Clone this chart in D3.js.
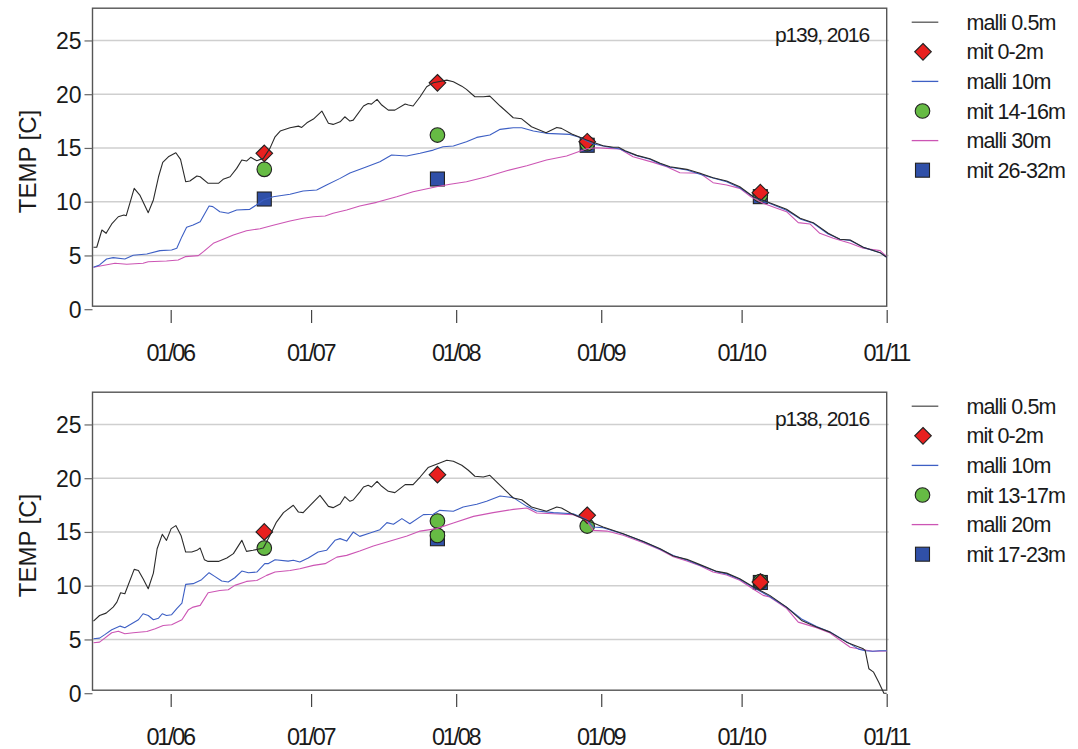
<!DOCTYPE html>
<html>
<head>
<meta charset="utf-8">
<script src="https://cdn.jsdelivr.net/npm/d3@7"></script>
<style>
  html, body { margin: 0; padding: 0; background: #fff; }
  svg { display: block; }
  text { font-family: "Liberation Sans", Arial, sans-serif; fill: #1a1a1a; }
</style>
</head>
<body>
<svg id="chart" width="1078" height="749"></svg>
<script>
// ---------------- DATA ----------------
// line series: [days since 2016-06-01, temperature °C]
const p139_malli05 = [[-16.5,5.76],[-15.8,5.76],[-14.7,7.37],[-13.8,7.06],[-12.6,7.93],[-11.2,8.6],[-10,8.76],[-9.5,8.7],[-7.8,11.24],[-6.6,10.62],[-4.8,8.98],[-3.7,10.16],[-2.6,12.32],[-1.7,13.66],[-0.5,14.18],[1.1,14.55],[2.1,13.94],[3.2,11.86],[4.1,11.92],[5.6,12.39],[6.3,12.32],[8,11.71],[10.2,11.71],[11.2,12.08],[12.7,12.32],[14.1,13.1],[15.2,13.88],[16.2,13.78],[17.1,14.13],[18.4,13.81],[19.8,14.03],[21.2,14.96],[22.3,16.04],[23.4,16.57],[25.5,16.88],[27.3,17.03],[28,16.91],[29.1,17.34],[30.5,17.69],[32.3,18.43],[33.7,17.29],[34.7,17.19],[36.2,17.43],[37.2,17.9],[38.3,17.5],[39,17.59],[41.2,18.9],[42.2,19.14],[42.9,19.08],[44.1,19.52],[45.1,18.99],[46.5,18.52],[47.9,18.52],[50.1,19.08],[50.8,18.99],[51.8,18.9],[53.3,19.76],[54.7,20.69],[56.1,21.06],[59,21.31],[60.4,21.15],[62.2,20.75],[63.2,20.45],[65,19.76],[66.8,19.76],[68.2,19.82],[70.4,18.9],[73.2,17.81],[75,17.71],[77.1,16.97],[80.2,16.41],[82.5,16.91],[83.5,16.82],[85.7,16.29],[88.9,15.73],[92.4,15.2],[94.6,15.06],[95.7,15.06],[97.1,14.74],[99.6,14.31],[102.4,14],[104.6,13.57],[106.7,13.25],[110.3,13.01],[113.1,12.64],[115.9,12.23],[118.8,11.92],[121.6,11.39],[124.5,10.46],[127.4,10],[131.6,9.29],[134.5,8.46],[137.3,8.05],[140.5,7.06],[143,6.5],[145.2,6.44],[148,5.76],[151.6,5.26],[153,4.83]];
const p139_malli10 = [[-16.5,3.9],[-15.2,4.12],[-13.7,4.67],[-12.3,4.8],[-9.8,4.67],[-8,5.02],[-5.1,5.14],[-2.3,5.45],[0.2,5.51],[1.3,5.67],[2.4,6.75],[3.4,7.62],[4.8,7.83],[6.3,8.14],[8.2,9.6],[9,9.54],[10.5,9.07],[12.3,8.92],[14.1,9.23],[16.9,9.29],[18.3,9.69],[19.8,10.16],[21.9,10.46],[25.5,10.69],[28.3,11],[31.2,11.09],[33.3,11.55],[36.2,12.17],[38.3,12.67],[41.9,13.25],[44.7,13.72],[47.2,14.34],[50.4,14.25],[53.3,14.5],[56.1,14.8],[58.2,15.11],[60.4,15.18],[63.2,15.58],[65.4,15.98],[68.2,16.2],[70.4,16.73],[73.2,16.88],[75,16.88],[77.5,16.57],[80.3,16.36],[85.3,16.26],[87.5,15.98],[90.3,15.36],[93.2,15.11],[96,14.9],[97.1,14.7],[99.6,14.28],[102.4,13.95],[104.6,13.5],[106.7,13.2],[110.3,12.95],[113.1,12.55],[115.9,12.2],[118.8,11.85],[121.6,11.3],[124.5,10.45],[127.4,9.95],[131.6,9.2],[134.5,8.4],[137.3,8.0],[140.5,7.0],[143,6.5],[145.2,6.4],[148,5.75],[151.6,5.25],[153,4.83]];
const p139_malli30 = [[-16.5,3.9],[-11.9,4.27],[-9.4,4.18],[-5.9,4.27],[-4.8,4.42],[-0.9,4.49],[1.6,4.58],[3.1,4.89],[5.9,4.98],[7,5.35],[9.1,6.13],[11.2,6.5],[13.4,6.9],[16.2,7.3],[19.1,7.49],[21.9,7.81],[25.5,8.21],[28.3,8.46],[30.5,8.6],[33,8.67],[34.7,8.92],[37.6,9.23],[40.4,9.6],[44,9.94],[48.3,10.46],[51.8,10.93],[56.8,11.39],[59.7,11.62],[63.2,11.86],[67.5,12.32],[71.8,12.88],[76.1,13.35],[80.3,13.88],[84.6,14.25],[88.9,14.93],[91,15.02],[93.2,14.96],[96,14.9],[98.8,14.18],[103.1,13.66],[106,13.25],[108.8,12.7],[113.1,12.64],[115.9,11.77],[118.8,11.55],[121.6,11.24],[124,10.46],[126.6,9.85],[129.5,9.39],[131.6,9.07],[134.1,8.05],[136.6,7.93],[138.7,7.06],[141.6,6.6],[145.2,6.13],[148,5.67],[151.6,5.45],[153,4.89]];

const p138_malli05 = [[-16.5,6.7],[-15.2,7.23],[-13.8,7.45],[-12.3,8.01],[-11.5,8.47],[-10.7,9.35],[-9.8,9.25],[-7.8,11.52],[-6.9,11.42],[-5.9,10.65],[-4.8,9.72],[-3.7,11.17],[-2.9,13.44],[-1.8,14.78],[-0.9,14.22],[0.1,15.31],[1.1,15.59],[2.2,14.68],[3.2,13.13],[4.5,13.13],[5.6,13.29],[6.3,13.5],[7.2,12.42],[8,12.26],[10.2,12.26],[12,12.57],[13.4,12.98],[15.2,14.22],[16.2,13.19],[17.6,13.29],[19.8,13.5],[21.2,14.68],[22.6,15.92],[24.1,16.8],[26.2,17.48],[27.3,16.85],[28.3,16.8],[29.8,17.48],[31.9,18.41],[33.7,17.38],[34.7,17.26],[36.2,17.6],[37.2,18.28],[38.3,17.85],[39,17.97],[40.4,18.71],[41.2,19.18],[42.2,19.34],[42.9,19.18],[44.1,19.71],[45.1,19.25],[46.5,18.78],[47.9,18.66],[50.1,19.4],[51.8,19.4],[53.3,20.11],[55,20.99],[56.8,21.29],[59,21.67],[60.4,21.57],[62.2,21.2],[63.6,20.74],[65,20.18],[66.8,20.11],[68.2,20.27],[70.4,19.34],[73.2,18.16],[75,18.0],[77.1,17.32],[80.3,16.92],[82.5,17.32],[83.5,17.23],[85.7,16.7],[88.9,16.08],[92.4,15.46],[96.7,14.84],[101,14.12],[104.6,13.44],[107.4,12.76],[110.3,12.45],[113.1,11.96],[116.7,11.33],[118.8,11.17],[121.6,10.65],[124.8,9.81],[128,9.1],[131.6,8.01],[134.8,6.77],[138,6.15],[140.9,5.68],[144.4,4.75],[148,4.13],[148.4,3.98],[149.2,2.27],[150.2,1.96],[151.3,1.02],[152.4,0],[153,0]];
const p138_malli10 = [[-16.5,5.06],[-15.2,5.12],[-14,5.47],[-12.6,5.9],[-10.8,6.24],[-9.8,6.09],[-6.9,6.83],[-5.9,7.39],[-4.8,7.23],[-3.7,6.83],[-2.6,6.98],[-1.8,7.39],[-0.9,7.23],[0.2,7.3],[1.3,7.86],[2.4,8.38],[3.2,10.12],[4.8,10.19],[6.6,10.56],[8.2,11.21],[9.4,10.87],[10.9,10.43],[12.3,10.34],[13.7,10.74],[15.2,11.36],[16.6,11.21],[18.4,11.27],[20.1,12.05],[20.8,12.05],[22.3,12.42],[25.1,12.29],[26.2,12.36],[27.6,12.2],[29.4,12.57],[31.5,13.13],[33.3,13.29],[35.1,14.22],[36.2,14.38],[37.6,14.15],[39,14.99],[40.4,14.59],[42.6,14.9],[44.7,15.21],[46.2,15.87],[47.6,15.71],[49.4,16.24],[51.1,15.77],[54,16.61],[56.1,16.64],[57.5,17.01],[60.4,16.92],[62.5,17.32],[65.4,17.57],[67.5,17.85],[70.4,18.34],[73.2,18.19],[76.1,17.38],[78.2,16.95],[81.8,16.8],[86,16.7],[88.9,16.15],[90.3,15.46],[92.4,15.4],[96.7,14.8],[101,14.1],[104.6,13.4],[107.4,12.8],[110.3,12.4],[113.1,11.9],[116.7,11.3],[118.8,11.1],[121.6,10.6],[124.8,9.75],[128,9.0],[131.6,8.0],[134.8,6.9],[138,6.2],[140.9,5.7],[144.4,4.8],[147,4.1],[148.4,3.95],[150,3.9],[151.5,3.95],[153,3.95]];
const p138_malli20 = [[-16.5,4.69],[-15.2,4.75],[-12.6,5.62],[-11.2,5.77],[-9.8,5.53],[-8,5.62],[-5.1,5.74],[-3.3,6.0],[-1.6,6.3],[0.2,6.37],[2.4,6.83],[3.8,7.77],[4.8,8.01],[6.3,8.17],[8,9.35],[10.5,9.56],[12.3,9.63],[13.7,10.03],[16.2,10.4],[18.4,10.49],[20.5,10.96],[22.3,11.27],[25.5,11.42],[27.6,11.58],[30.5,11.89],[33,12.05],[35.5,12.66],[37.6,12.82],[40.4,13.22],[43.3,13.69],[46.2,14.06],[50.5,14.62],[53.3,15.08],[56.8,15.31],[60.4,15.83],[64.7,16.45],[68.9,16.8],[73.2,17.1],[76.1,17.23],[78.2,16.76],[81.8,16.7],[86,16.61],[88.9,16.08],[90.3,15.15],[93.2,15.08],[96.7,14.7],[101,14.0],[104.6,13.35],[107.4,12.7],[110.3,12.3],[113.1,11.85],[115.9,11.27],[118.8,11.0],[121.6,10.5],[124.8,9.6],[126.6,9.1],[128,8.95],[131.6,7.9],[134.1,6.61],[138,6.1],[140.9,5.6],[145.2,4.28],[148,4.04],[150,3.9],[153,3.92]];

// measurements: [date, temperature °C]
const p139_mit_0_2 = [["2016-06-21",14.5],["2016-07-28",21.06],["2016-08-29",15.58],["2016-10-05",10.84]];
const p139_mit_14_16 = [["2016-06-21",13.01],["2016-07-28",16.2],["2016-08-29",15.4],["2016-10-05",10.62]];
const p139_mit_26_32 = [["2016-06-21",10.25],["2016-07-28",12.11],["2016-08-29",15.25],["2016-10-05",10.47]];

const p138_mit_0_2 = [["2016-06-21",15.0],["2016-07-28",20.33],["2016-08-29",16.55],["2016-10-05",10.34]];
const p138_mit_13_17 = [["2016-06-21",13.5],["2016-07-28",16.02],["2016-07-28",14.68],["2016-08-29",15.55],["2016-10-05",10.38]];
const p138_mit_17_23 = [["2016-07-28",14.37],["2016-10-05",10.3]];

const xTickDates = ["2016-06-01","2016-07-01","2016-08-01","2016-09-01","2016-10-01","2016-11-01"];
const yTickValues = [0, 5, 10, 15, 20, 25];
const panelTitles = ["p139, 2016", "p138, 2016"];
const legendLabels139 = ["malli 0.5m", "mit 0-2m", "malli 10m", "mit 14-16m", "malli 30m", "mit 26-32m"];
const legendLabels138 = ["malli 0.5m", "mit 0-2m", "malli 10m", "mit 13-17m", "malli 20m", "mit 17-23m"];
const yLabel = "TEMP [C]";

// ---------------- DRAW ----------------
const svg = d3.select("#chart");
const parse = d3.timeParse("%Y-%m-%d");
const base = new Date(2016, 5, 1);
const dayDate = d => new Date(base.getTime() + d * 864e5);

const COL = {
  black: "#2b2b2b", blue: "#3d5fc4", pink: "#cc55b4",
  red: "#e8201f", green: "#66bb44", sq: "#3050a8"
};

const x = d3.scaleTime()
  .domain([dayDate(-16.71), dayDate(153)])
  .range([92.5, 886.7]);

function panel(offY, title, lines, marks, legendLabels) {
  const g = svg.append("g").attr("transform", `translate(0,${offY})`);
  const y = d3.scaleLinear().domain([0, 28]).range([309.2, 8.2]);
  const left = 92.5, right = 886.7, top = y(28), bottom = 306.2;

  // grid
  g.append("g").selectAll("line").data(yTickValues.filter(v => v > 0)).join("line")
    .attr("x1", left).attr("x2", right + 2)
    .attr("y1", d => y(d)).attr("y2", d => y(d))
    .attr("stroke", "#cfcfcf").attr("stroke-width", 1.4);

  // frame
  g.append("rect").attr("x", left).attr("y", top)
    .attr("width", right - left).attr("height", bottom - top)
    .attr("fill", "none").attr("stroke", "#555").attr("stroke-width", 1.4);

  // y axis
  const ya = g.append("g").attr("transform", `translate(${left},0)`)
    .call(d3.axisLeft(y).tickValues(yTickValues).tickSize(8).tickPadding(3).tickFormat(d3.format("d")));
  ya.select(".domain").remove();
  ya.selectAll(".tick line").attr("stroke", "#666").attr("stroke-width", 1.2);
  ya.selectAll(".tick text").attr("font-size", 23).attr("fill", "#1a1a1a")
    .attr("font-family", "Liberation Sans, Arial, sans-serif").attr("dy", "0.34em");

  // x axis
  const xa = g.append("g").attr("transform", `translate(0,${y(0) + 0.8})`)
    .call(d3.axisBottom(x).tickValues(xTickDates.map(parse)).tickSize(13).tickPadding(21)
      .tickFormat(d3.timeFormat("%d/%m")));
  xa.select(".domain").remove();
  xa.selectAll(".tick line").attr("stroke", "#444").attr("stroke-width", 1.2);
  xa.selectAll(".tick text").attr("font-size", 23.5).attr("fill", "#1a1a1a")
    .attr("font-family", "Liberation Sans, Arial, sans-serif")
    .attr("letter-spacing", "-2.3px").attr("dx", "-1px");

  // y label
  g.append("text").attr("transform", `translate(35.5,161.5) rotate(-90)`)
    .attr("text-anchor", "middle").attr("font-size", 24).text(yLabel);

  // title
  g.append("text").attr("x", 869).attr("y", 41.7).attr("text-anchor", "end")
    .attr("font-size", 21).attr("letter-spacing", "-1.1px").text(title);

  // markers
  g.append("g").selectAll("rect").data(marks.sq).join("rect")
    .attr("x", d => x(parse(d[0])) - 7).attr("y", d => y(d[1]) - 7)
    .attr("width", 14).attr("height", 14)
    .attr("fill", COL.sq).attr("stroke", "#222").attr("stroke-width", 1.1);
  g.append("g").selectAll("circle").data(marks.circle).join("circle")
    .attr("cx", d => x(parse(d[0]))).attr("cy", d => y(d[1])).attr("r", 7.3)
    .attr("fill", COL.green).attr("stroke", "#222").attr("stroke-width", 1.1);
  g.append("g").selectAll("path").data(marks.diamond).join("path")
    .attr("transform", d => `translate(${x(parse(d[0]))},${y(d[1])})`)
    .attr("d", "M0,-8.3L8.3,0L0,8.3L-8.3,0Z")
    .attr("fill", COL.red).attr("stroke", "#222").attr("stroke-width", 1.1);

  // lines
  const line = d3.line().x(d => x(dayDate(d[0]))).y(d => y(d[1]));
  [[lines[2], COL.pink], [lines[1], COL.blue], [lines[0], COL.black]].forEach(([data, c]) => {
    g.append("path").datum(data).attr("d", line)
      .attr("fill", "none").attr("stroke", c).attr("stroke-width", 1.1)
      .attr("stroke-linejoin", "round");
  });

  // legend
  const rowY = i => 22.2 + i * 29.6;
  const lg = g.append("g");
  const kinds = ["line", "diamond", "line", "circle", "line", "square"];
  const lineCols = ["#555", null, COL.blue, null, COL.pink, null];
  kinds.forEach((k, i) => {
    const yy = rowY(i);
    if (k === "line") {
      lg.append("line").attr("x1", 911.7).attr("x2", 938.3).attr("y1", yy).attr("y2", yy)
        .attr("stroke", lineCols[i]).attr("stroke-width", 1.3);
    } else if (k === "diamond") {
      lg.append("path").attr("transform", `translate(923,${yy})`)
        .attr("d", "M0,-8.3L8.3,0L0,8.3L-8.3,0Z")
        .attr("fill", COL.red).attr("stroke", "#222").attr("stroke-width", 1.1);
    } else if (k === "circle") {
      lg.append("circle").attr("cx", 922.5).attr("cy", yy).attr("r", 7.3)
        .attr("fill", COL.green).attr("stroke", "#222").attr("stroke-width", 1.1);
    } else {
      lg.append("rect").attr("x", 915.5).attr("y", yy - 7).attr("width", 14).attr("height", 14)
        .attr("fill", COL.sq).attr("stroke", "#222").attr("stroke-width", 1.1);
    }
    lg.append("text").attr("x", 966.5).attr("y", yy + 7.6)
      .attr("font-size", 21.5).attr("letter-spacing", "-0.9px").text(legendLabels[i]);
  });
}

panel(0, panelTitles[0], [p139_malli05, p139_malli10, p139_malli30],
  { diamond: p139_mit_0_2, circle: p139_mit_14_16, sq: p139_mit_26_32 }, legendLabels139);
panel(384, panelTitles[1], [p138_malli05, p138_malli10, p138_malli20],
  { diamond: p138_mit_0_2, circle: p138_mit_13_17, sq: p138_mit_17_23 }, legendLabels138);
</script>
</body>
</html>
